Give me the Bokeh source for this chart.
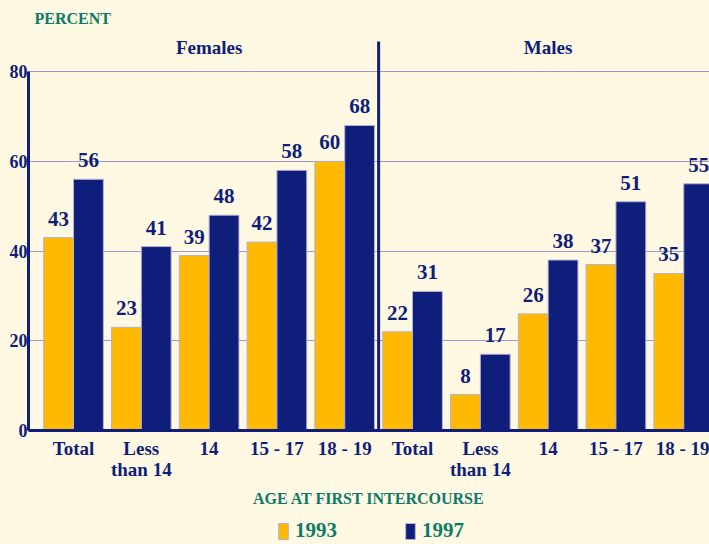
from bokeh.plotting import figure
from bokeh.layouts import column
from bokeh.models import (ColumnDataSource, FixedTicker, LabelSet, Label,
                          Legend, LegendItem)
from bokeh.transform import dodge
from bokeh.embed import file_html
from bokeh.resources import INLINE

# ---- data ----
groups = ["Females", "Males"]
age_cats = ["Total", "Less\nthan 14", "14", "15 - 17", "18 - 19"]
fem_1993 = [43, 23, 39, 42, 60]
fem_1997 = [56, 41, 48, 58, 68]
mal_1993 = [22, 8, 26, 37, 35]
mal_1997 = [31, 17, 38, 51, 55]
years = ["1993", "1997"]
y_ticks = [0, 20, 40, 60, 80]

labels = age_cats * 2
xs = list(range(len(labels)))
v93 = fem_1993 + mal_1993
v97 = fem_1997 + mal_1997
src = ColumnDataSource(dict(x=xs, v93=v93, v97=v97,
                            t93=[str(v) for v in v93], t97=[str(v) for v in v97]))

NAVY = "#0f1e7b"
GOLD = "#ffb900"
TEAL = "#0b7b69"
CREAM = "#fff8e2"
GRID = "#9d9acb"
EDGE = "#b5b1d4"
FONT = "Liberation Serif"

Y_TOP = 88.5        # visible top of value axis
DIV_TOP = 86.7      # top of the Females/Males divider
HEAD_Y = 85.3       # height of the panel headings

p = figure(width=709, height=512, x_range=(-0.664, 9.38), y_range=(0, Y_TOP),
           output_backend="svg", toolbar_location=None,
           min_border_left=28, min_border_right=0, min_border_top=33,
           min_border_bottom=82)
p.background_fill_color = CREAM
p.border_fill_color = CREAM
p.outline_line_color = None

p.title.text = "PERCENT"
p.title.text_font = FONT
p.title.text_font_style = "bold"
p.title.text_font_size = "16px"
p.title.text_color = TEAL
p.title.offset = 6
p.title.standoff = 13

bw = 0.44
r93 = p.vbar(x=dodge("x", -bw / 2), top="v93", bottom=0, width=bw, source=src,
             fill_color=GOLD, line_color=EDGE, line_width=1)
r97 = p.vbar(x=dodge("x", bw / 2), top="v97", bottom=0, width=bw, source=src,
             fill_color=NAVY, line_color=EDGE, line_width=1)

for fld, tfld, off in (("v93", "t93", -bw / 2), ("v97", "t97", bw / 2)):
    p.add_layout(LabelSet(x=dodge("x", off), y=fld, text=tfld, source=src,
                          text_align="center", text_baseline="bottom", y_offset=12,
                          text_font=FONT, text_font_style="bold",
                          text_font_size="21px", text_color=NAVY))

n = len(age_cats)
for gi, g in enumerate(groups):
    p.add_layout(Label(x=gi * n + (n - 1) / 2, y=HEAD_Y, text=g, text_align="center",
                       text_baseline="middle", text_font=FONT, text_font_style="bold",
                       text_font_size="19px", text_color=NAVY))

p.segment(x0=[n - 0.5], y0=[0], x1=[n - 0.5], y1=[DIV_TOP],
          line_color=NAVY, line_width=3)

# axes
p.yaxis.ticker = FixedTicker(ticks=y_ticks)
p.yaxis.bounds = (0, 80)
p.yaxis.axis_line_color = NAVY
p.yaxis.axis_line_width = 3
p.yaxis.major_tick_line_color = None
p.yaxis.minor_tick_line_color = None
p.yaxis.major_tick_out = 0
p.yaxis.major_label_standoff = 1
p.yaxis.major_label_text_font = FONT
p.yaxis.major_label_text_font_style = "bold"
p.yaxis.major_label_text_font_size = "18px"
p.yaxis.major_label_text_color = NAVY

p.xaxis.ticker = FixedTicker(ticks=xs)
p.xaxis.major_label_overrides = {i: lab for i, lab in enumerate(labels)}
p.xaxis.axis_line_color = NAVY
p.xaxis.axis_line_width = 3
p.xaxis.major_tick_line_color = None
p.xaxis.minor_tick_line_color = None
p.xaxis.major_tick_out = 0
p.xaxis.major_label_standoff = 7
p.xaxis.major_label_text_font = FONT
p.xaxis.major_label_text_font_style = "bold"
p.xaxis.major_label_text_font_size = "19px"
p.xaxis.major_label_text_line_height = 1.0
p.xaxis.major_label_text_color = NAVY
p.xaxis.axis_label = "AGE AT FIRST INTERCOURSE"
p.xaxis.axis_label_text_font = FONT
p.xaxis.axis_label_text_font_style = "bold"
p.xaxis.axis_label_text_font_size = "16px"
p.xaxis.axis_label_text_color = TEAL
p.xaxis.axis_label_standoff = 7

p.xgrid.visible = False
p.ygrid.ticker = FixedTicker(ticks=y_ticks)
p.ygrid.grid_line_color = GRID
p.ygrid.grid_line_width = 1

# legend strip below the chart (keys only; their glyphs sit outside the view)
lf = figure(width=709, height=32, x_range=(0, 1), y_range=(0, 1),
            output_backend="svg", toolbar_location=None,
            min_border=0, min_border_left=0, min_border_right=0,
            min_border_top=0, min_border_bottom=0)
lf.axis.visible = False
lf.grid.visible = False
lf.outline_line_color = None
lf.background_fill_color = CREAM
lf.border_fill_color = CREAM
k93 = lf.vbar(x=[-1], top=[0], width=0.1, fill_color=GOLD, line_color=EDGE)
k97 = lf.vbar(x=[-1], top=[0], width=0.1, fill_color=NAVY, line_color=EDGE)
legend = Legend(items=[LegendItem(label=years[0], renderers=[k93]),
                       LegendItem(label=years[1], renderers=[k97])],
                orientation="horizontal", location=(249, 1),
                label_text_font=FONT, label_text_font_style="bold",
                label_text_font_size="21px", label_text_color=TEAL,
                glyph_width=12, glyph_height=20, label_standoff=6, spacing=67,
                background_fill_alpha=0, border_line_color=None,
                padding=2, margin=0)
lf.add_layout(legend)

layout = column(p, lf, spacing=0, styles={"background-color": CREAM})
open("out.html", "w").write(file_html(layout, INLINE))
